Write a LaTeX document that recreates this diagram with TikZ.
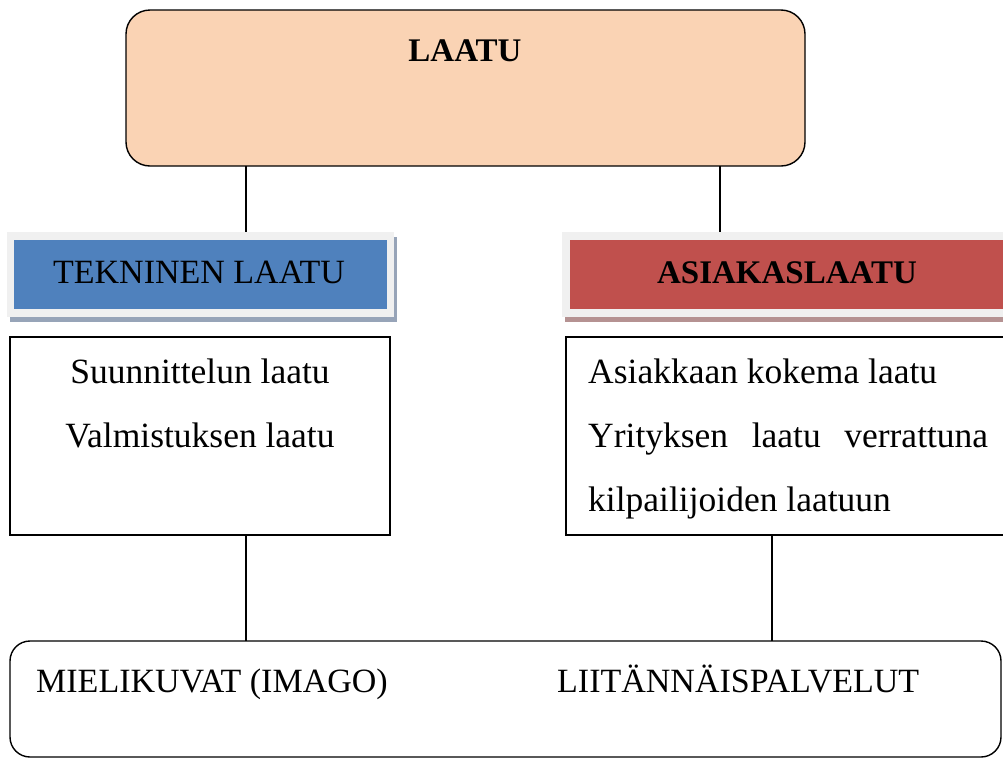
\documentclass[tikz,border=0pt]{standalone}
\usepackage{fontspec}
\setmainfont{Liberation Serif}
\definecolor{peach}{HTML}{FAD3B4}
\definecolor{techblue}{HTML}{4F81BD}
\definecolor{custred}{HTML}{C0504D}
\definecolor{framegray}{HTML}{F0F0F0}
\definecolor{blueshadow}{HTML}{97A4B8}
\definecolor{redshadow}{HTML}{B59292}
\begin{document}
\begin{tikzpicture}[x=1pt,y=-1pt,
  box/.style={anchor=north west,inner sep=0pt,outer sep=0pt},
  outline/.style={draw=black,line width=1.4pt},
  link/.style={draw=black,line width=1.4pt},
  txt/.style={inner sep=0pt,font=\fontsize{35.5}{40}\selectfont},
  captxt/.style={inner sep=0pt,font=\fontsize{34}{40}\selectfont},
  btxt/.style={inner sep=0pt,font=\fontsize{33}{38}\selectfont\bfseries}]
\useasboundingbox (0,0) rectangle (1003,758);
\clip (0,0) rectangle (1003,758);

% main heading box
\node[box,outline,fill=peach,rounded corners=24pt,minimum width=679pt,minimum height=156pt] (top) at (126,10) {};
\node[btxt,anchor=base] (toplbl) at (465,61) {LAATU};

% technical quality header with frame and shadow
\fill[blueshadow] (10,237) rectangle (397,322);
\node[box,fill=framegray,minimum width=387pt,minimum height=85pt] (techframe) at (7,232) {};
\node[box,fill=techblue,minimum width=373pt,minimum height=69pt] (tech) at (14,240) {};
\node[captxt,anchor=base] (techlbl) at (199,283) {TEKNINEN LAATU};

% customer quality header with frame and shadow
\fill[redshadow] (565,237) rectangle (1020,322);
\node[box,fill=framegray,minimum width=450pt,minimum height=85pt] (custframe) at (562,232) {};
\node[box,fill=custred,minimum width=440pt,minimum height=69pt] (cust) at (570,240) {};
\node[btxt,anchor=base] (custlbl) at (787,283) {ASIAKASLAATU};

% detail boxes
\node[box,outline,line width=1.2pt,fill=white,minimum width=380pt,minimum height=198pt] (techdet) at (10,337) {};
\node[txt,anchor=base] (t1) at (200,383) {Suunnittelun laatu};
\node[txt,anchor=base] (t2) at (200,447) {Valmistuksen laatu};

\node[box,outline,line width=1.2pt,fill=white,minimum width=450pt,minimum height=198pt] (custdet) at (566,337) {};
\node[txt,anchor=base west] (c1) at (588,383) {Asiakkaan kokema laatu};
\node[txt,anchor=base west,text width=400pt,align=left] (c2) at (588,447) {Yrityksen\hfill laatu\hfill verrattuna};
\node[txt,anchor=base west] (c3) at (588,511) {kilpailijoiden laatuun};

% bottom box
\node[box,outline,fill=white,rounded corners=20pt,minimum width=991pt,minimum height=116pt] (bottom) at (10,641) {};
\node[captxt,anchor=base west] (b1) at (36,692) {MIELIKUVAT (IMAGO)};
\node[captxt,anchor=base west] (b2) at (557,692) {LIITÄNNÄISPALVELUT};

% connectors
\draw[link] (top.south -| 246,0) -- (techframe.north -| 246,0);
\draw[link] (top.south -| 720,0) -- (custframe.north -| 720,0);
\draw[link] (techdet.south -| 246,0) -- (bottom.north -| 246,0);
\draw[link] (custdet.south -| 772,0) -- (bottom.north -| 772,0);
\end{tikzpicture}
\end{document}
